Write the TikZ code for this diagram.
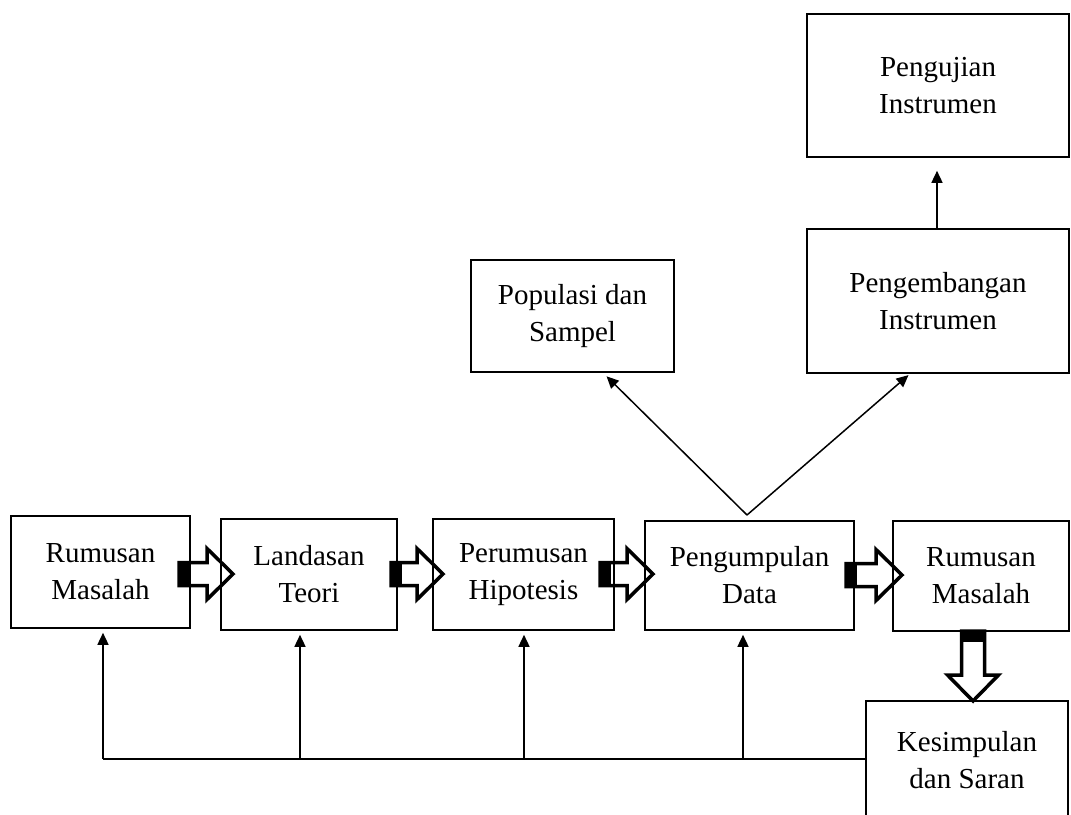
\documentclass[tikz,border=0pt]{standalone}
\usepackage{fontspec}
\setmainfont{Liberation Serif}
\usetikzlibrary{arrows.meta,calc}
\newcommand\blkarrow[3]{%
  \begin{scope}[shift={(#1)}, rotate=#2]
    \draw[line width=3.5pt, fill=white, line join=miter]
      (0,-11.5) -- ({#3-26},-11.5) -- ({#3-26},-25.5) -- (#3,0) --
      ({#3-26},25.5) -- ({#3-26},11.5) -- (0,11.5) -- cycle;
    \fill (-1.5,-13) rectangle (11,13);
  \end{scope}}
\begin{document}
\begin{tikzpicture}[x=1pt,y=-1pt,
  box/.style={draw, line width=1.6pt, inner sep=0pt, align=center,
    font=\fontsize{29}{37}\selectfont},
  arr/.style={line width=1.5pt, -{Triangle[length=12pt,width=11pt]}}]
\useasboundingbox (0,0) rectangle (1071,814);
\clip (0,0) rectangle (1071,814);
\fill[white] (0,0) rectangle (1071,814);

% block arrows (drawn first, boxes on top)
\blkarrow{179,574}{0}{54}
\blkarrow{391,574}{0}{52}
\blkarrow{600,574}{0}{53}
\blkarrow{846,575}{0}{56}
\blkarrow{973,631}{-90}{70}

% boxes
\node[box, minimum width=179, minimum height=112] (b1) at (100.5,572) {Rumusan\\Masalah};
\node[box, minimum width=176, minimum height=111] (b2) at (309,574.5) {Landasan\\Teori};
\node[box, minimum width=181, minimum height=111] (b3) at (523.5,574.5) {Perumusan\\Hipotesis};
\node[box, minimum width=209, minimum height=109] (b4) at (749.5,575.5) {Pengumpulan\\Data};
\node[box, minimum width=176, minimum height=110] (b5) at (981,576) {Rumusan\\Masalah};
\node[box, minimum width=202, minimum height=119] (b6) at (967,760.5) {Kesimpulan\\dan Saran};
\node[box, minimum width=203, minimum height=112] (b7) at (572.5,316) {Populasi dan\\Sampel};
\node[box, minimum width=262, minimum height=144] (b8) at (938,301) {Pengembangan\\Instrumen};
\node[box, minimum width=262, minimum height=143] (b9) at (938,85.5) {Pengujian\\Instrumen};

% feedback line
\coordinate (f1) at (103,759);
\coordinate (f2) at (300,759);
\coordinate (f3) at (524,759);
\coordinate (f4) at (743,759);
\draw[line width=1.5pt] (f1) -- (f1 -| b6.west);
\draw[arr, shorten >=4pt] (f1) -- (f1 |- b1.south);
\draw[arr, shorten >=4pt] (f2) -- (f2 |- b2.south);
\draw[arr, shorten >=4pt] (f3) -- (f3 |- b3.south);
\draw[arr, shorten >=4pt] (f4) -- (f4 |- b4.south);

% branching arrows
\coordinate (apex) at (747,515);
\draw[arr, shorten >=5pt] (apex) -- ([xshift=30.5]b7.south);
\draw[arr, shorten >=2pt] (apex) -- ([xshift=-28]b8.south);
\draw[arr, shorten >=13pt] ([xshift=-1]b8.north) -- ([xshift=-1]b9.south);
\end{tikzpicture}
\end{document}
